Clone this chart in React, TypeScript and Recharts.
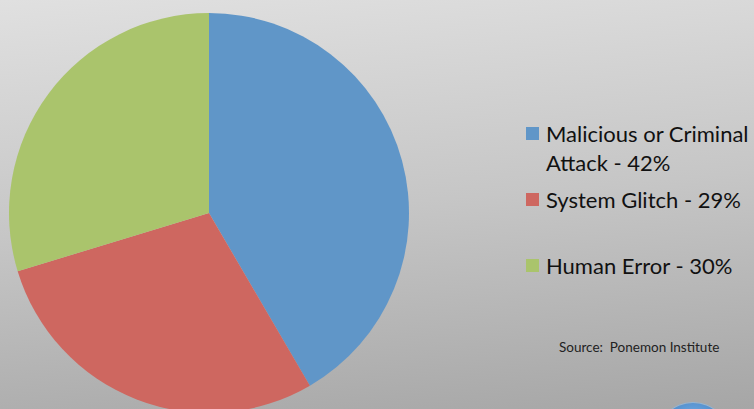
import React from "react";
import { PieChart, Pie, Cell, Legend } from "recharts";

const categories = ["Malicious or Criminal Attack", "System Glitch", "Human Error"];
const values = [42, 29, 30];
const legendLabels = ["Malicious or Criminal Attack - 42%", "System Glitch - 29%", "Human Error - 30%"];
const colors = ["#6096C8", "#CE6760", "#AAC46C"];
const sourceText = "Source:  Ponemon Institute";

const data = categories.map((name, i) => ({ name, value: values[i], label: legendLabels[i] }));

const itemTops = [0, 66, 132];

const renderLegend = () => {
  return (
    <div style={{ position: "relative", width: 228, height: 200, fontFamily: "Lato, sans-serif" }}>
      {data.map((d, i) => (
        <div
          key={d.name}
          style={{
            position: "absolute",
            left: 0,
            top: itemTops[i],
            display: "flex",
            alignItems: "flex-start",
          }}
        >
          <div
            style={{
              width: 13,
              height: 13,
              marginTop: 8,
              background: colors[i],
              flex: "none",
            }}
          />
          <div
            style={{
              marginLeft: 7,
              width: 212,
              fontSize: 22,
              lineHeight: "29px",
              color: "#111",
              textAlign: "left",
            }}
          >
            {d.label}
          </div>
        </div>
      ))}
    </div>
  );
};

export default function App() {
  return (
    <div
      style={{
        position: "absolute",
        left: 0,
        top: 0,
        width: 754,
        height: 409,
        overflow: "hidden",
        background: "linear-gradient(175deg, #e0e0e0 0%, #c6c6c6 50%, #a6a6a6 100%)",
      }}
    >
      <PieChart width={754} height={409} margin={{ top: 0, right: 0, bottom: 0, left: 0 }}>
        <Pie
          data={data}
          dataKey="value"
          nameKey="name"
          cx={209}
          cy={213}
          outerRadius={200}
          startAngle={90}
          endAngle={-270}
          stroke="none"
          isAnimationActive={false}
        >
          {data.map((d, i) => (
            <Cell key={d.name} fill={colors[i]} />
          ))}
        </Pie>
        <Legend
          content={renderLegend}
          wrapperStyle={{ position: "absolute", left: 526, top: 119, width: 228, height: 200 }}
        />
      </PieChart>
      <div
        style={{
          position: "absolute",
          left: 559,
          top: 339,
          fontFamily: "Lato, sans-serif",
          fontSize: 13.5,
          lineHeight: 1.2,
          color: "#222",
          whiteSpace: "pre",
        }}
      >
        {sourceText}
      </div>
      <div
        style={{
          position: "absolute",
          left: 657,
          top: 403,
          width: 72,
          height: 72,
          borderRadius: "50%",
          background: "radial-gradient(circle at 50% 30%, #7fb3e6 0%, #3d7fc4 60%, #2a5f99 100%)",
          boxShadow: "0 0 0 1px #8fb5d8",
        }}
      />
    </div>
  );
}
